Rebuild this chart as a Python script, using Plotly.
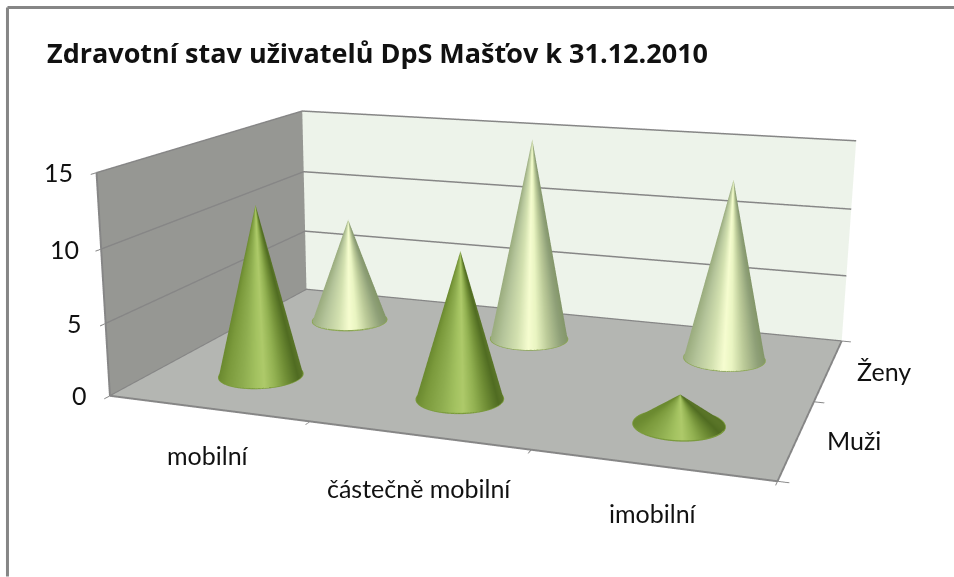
import numpy as np
import plotly.graph_objects as go

categories = ["mobilní", "částečně mobilní", "imobilní"]
series_names = ["Muži", "Ženy"]
muzi = [12, 10, 2]
zeny = [8, 15, 13]
z_ticks = [0, 5, 10, 15]
title = "Zdravotní stav uživatelů DpS Mašťov k 31.12.2010"

W, H = 954, 577
eye = [0.7562, -2.2683, 0.5701]
cen = [-0.0798, -0.0480, -0.0945]
ar = [1, 0.6923, 0.3411]
foc, ppx, ppy = 1560.1, 439.0, 324.5
PH = 2 * foc * np.tan(np.pi / 8)
PW = PH * W / H
offx = PW / 2 - ppx
offy = PH / 2 - ppy
def X(a): return (a + offx) / PW
def Y(b): return 1 - (b + offy) / PH

x_range = [0, 3]
y_range = [0, 2]
z_range = [0, 15]
muzi_scale = [[0, "#6b8a30"], [0.1, "#7b9a3c"], [0.3, "#8fae50"], [0.45, "#a3c260"], [0.55, "#aeca6a"],
              [0.68, "#93b252"], [0.82, "#6f8d35"], [0.95, "#506c22"], [1, "#5a7528"]]
zeny_scale = [[0, "#9aac7e"], [0.15, "#b4c49a"], [0.35, "#d3e1b0"], [0.5, "#f6fdd0"], [0.6, "#eaf5c2"],
              [0.75, "#bccb99"], [0.92, "#8fa078"], [1, "#84976a"]]
theta = np.linspace(0, 2 * np.pi, 145)
t = np.array([0, 1.0])
fig = go.Figure()
for vals, cs, rim, yc in ((zeny, zeny_scale, "#8ba653", 1.5), (muzi, muzi_scale, "#7a9a3c", 0.5)):
    for i, v in enumerate(vals):
        xc = i + 0.5
        wx = (xc / 3 - 0.5) * ar[0]
        wy = (yc / 2 - 0.5) * ar[1]
        view = np.arctan2(eye[1] - wy, eye[0] - wx)
        xx = xc + 0.195 * np.outer(1 - t, np.cos(theta))
        yy = yc + 0.2 * np.outer(1 - t, np.sin(theta))
        zz = np.outer(t * v, np.ones_like(theta))
        col = np.outer(np.ones_like(t), np.sin(theta - view))
        fig.add_trace(go.Surface(x=xx, y=yy, z=zz, surfacecolor=col, colorscale=cs, cmin=-1, cmax=1, showscale=False,
                                 lighting=dict(ambient=1, diffuse=0, specular=0, roughness=1, fresnel=0), hoverinfo="skip"))
        fig.add_trace(go.Scatter3d(x=xx[0], y=yy[0], z=zz[0], mode="lines", line=dict(color=rim, width=3),
                                   hoverinfo="skip", showlegend=False))
ax = dict(showspikes=False, zeroline=False, title="", showline=True, linecolor="#868686", linewidth=4, showgrid=False,
          ticks="outside", ticklen=8, tickcolor="#868686", tickwidth=2, showticklabels=False, showbackground=True)
anns = []
def lab(t_, a, b, size=25, family="Lato"):
    anns.append(dict(text=t_, x=X(a), y=Y(b), xref="paper", yref="paper", showarrow=False, xanchor="center",
                     yanchor="middle", font=dict(size=size, family=family, color="#111")))
for t_, a, b in zip(categories, [208, 419, 652], [456, 489, 514]):
    lab(t_, a, b)
for t_, a, b in zip(series_names, [853, 883], [441, 372]):
    lab(t_, a, b)
for t_, a, b in zip(z_ticks, [79, 74, 64, 58], [396, 323, 249, 172]):
    lab(str(t_), a, b)
lab("<b>%s</b>" % title, 377, 53, size=27, family="Open Sans")
fig.update_layout(width=PW, height=PH, margin=dict(l=0, r=0, t=0, b=0), paper_bgcolor="white", showlegend=False,
    scene=dict(domain=dict(x=[0, 1], y=[0, 1]), aspectmode="manual", aspectratio=dict(x=ar[0], y=ar[1], z=ar[2]),
        camera=dict(eye=dict(x=eye[0], y=eye[1], z=eye[2]), center=dict(x=cen[0], y=cen[1], z=cen[2]), up=dict(x=0, y=0, z=1)),
        xaxis=dict(ax, range=x_range, tickmode="array", tickvals=[0, 1, 2, 3], backgroundcolor="#969793"),
        yaxis=dict(ax, range=y_range, tickmode="array", tickvals=[0, 1, 2], backgroundcolor="#edf3ea"),
        zaxis=dict(ax, range=z_range, tickmode="array", tickvals=z_ticks, backgroundcolor="#b4b6b2", showgrid=True,
                   gridcolor="#868686", gridwidth=3)),
    shapes=[dict(type="line", xref="paper", yref="paper", x0=X(7), x1=X(7), y0=Y(8), y1=Y(577), line=dict(color="#868686", width=3)),
            dict(type="line", xref="paper", yref="paper", x0=X(7), x1=X(954), y0=Y(8), y1=Y(8), line=dict(color="#868686", width=3))],
    annotations=anns)
post = ("var g=document.getElementById('{plot_id}');document.documentElement.style.overflow='hidden';"
        "document.body.style.margin='0';g.style.position='absolute';g.style.left='%.1fpx';g.style.top='%.1fpx';" % (-offx, -offy))
fig.write_html("out.html", post_script=post)
